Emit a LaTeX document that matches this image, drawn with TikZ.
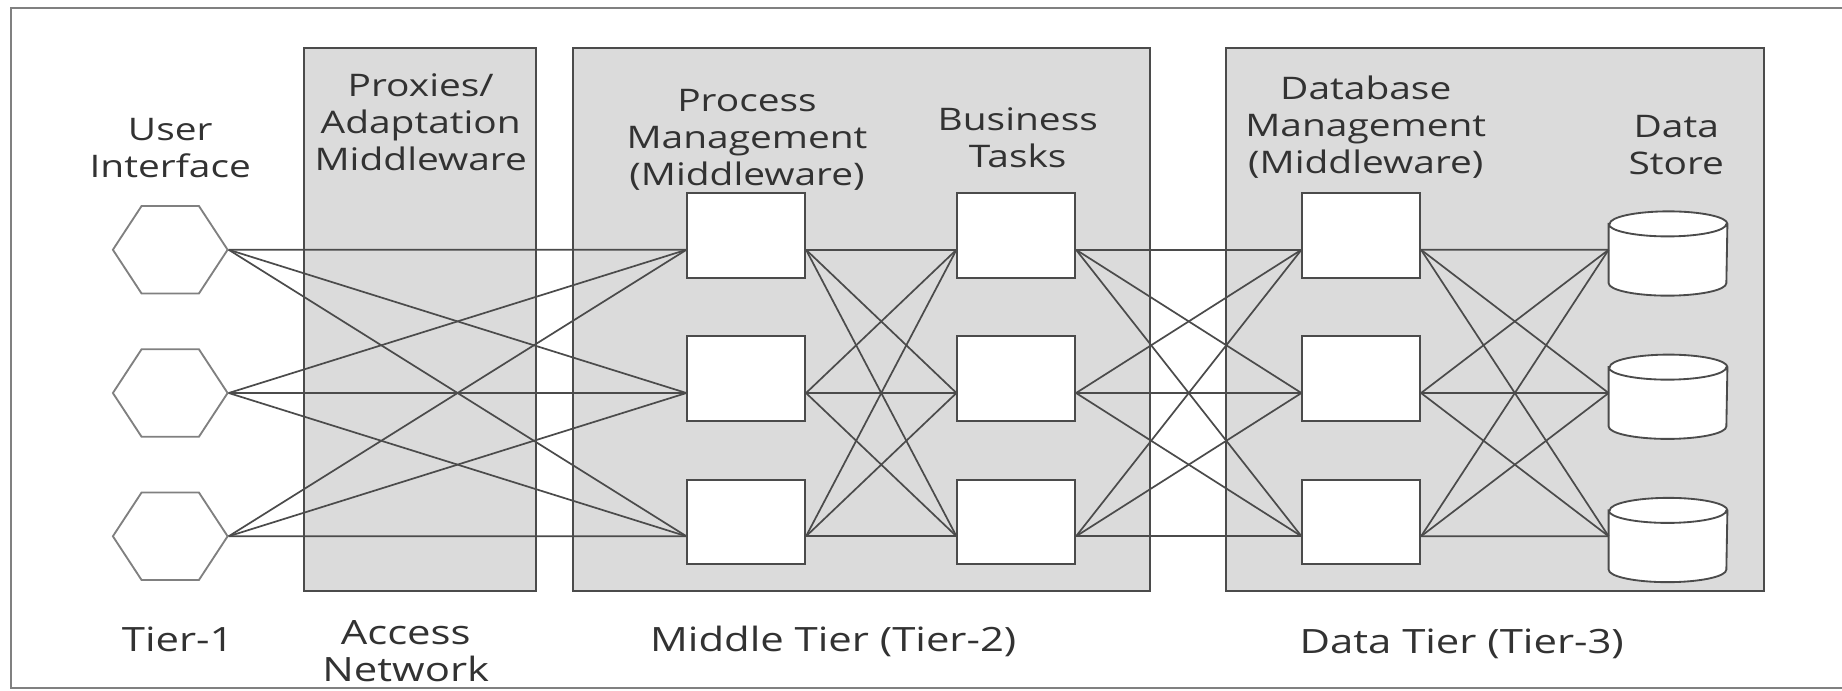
\documentclass[tikz,border=0pt]{standalone}
\usepackage{fontspec}
\setmainfont{Open Sans}[FakeStretch=1.25]
\usetikzlibrary{shapes.geometric}
\definecolor{panelgray}{RGB}{219,219,219}
\definecolor{edgegray}{RGB}{75,75,75}
\definecolor{inkgray}{RGB}{50,50,50}

\begin{document}
\begin{tikzpicture}[
  panel/.style={draw=edgegray, fill=panelgray, line width=0.7pt},
  hexa/.style={draw=gray, fill=white, regular polygon, regular polygon sides=6,
    minimum size=1.53cm, inner sep=0pt, yscale=0.88, line width=0.7pt},
  task/.style={draw=edgegray, fill=white, minimum width=1.57cm,
    minimum height=1.13cm, inner sep=0pt, line width=0.7pt},
  store/.style={minimum width=1.57cm, minimum height=1.11cm, inner sep=0pt},
  drum/.style={draw=edgegray, fill=white, line width=0.7pt},
  lbl/.style={align=center, anchor=base, text=inkgray,
    font=\fontsize{11.8}{14}\selectfont},
  tier/.style={align=center, anchor=base, text=inkgray,
    font=\fontsize{12.7}{14}\selectfont},
  link/.style={draw=edgegray, line width=0.65pt}
]
\useasboundingbox (0,0) rectangle (24.56,-9.213);
\clip (0,0) rectangle (24.56,-9.213);
% frame, open on the right
\draw[gray, line width=0.8pt] (25,-0.11) -- (0.15,-0.11) -- (0.15,-9.17) -- (25,-9.17);

% tier panels
\draw[panel] (4.05,-0.64) rectangle (7.15,-7.88);
\draw[panel] (7.64,-0.64) rectangle (15.33,-7.88);
\draw[panel] (16.35,-0.64) rectangle (23.52,-7.88);

% column headings (placed on their last line)
\node[lbl] (ui-lbl) at (2.27,-2.37) {User\\Interface};
\node[lbl] (px-lbl) at (5.61,-2.27) {Proxies/\\Adaptation\\Middleware};
\node[lbl] (pm-lbl) at (9.96,-2.47) {Process\\Management\\(Middleware)};
\node[lbl] (bt-lbl) at (13.57,-2.23) {Business\\Tasks};
\node[lbl] (db-lbl) at (18.21,-2.31) {Database\\Management\\(Middleware)};
\node[lbl] (ds-lbl) at (22.35,-2.33) {Data\\Store};

% tier names
\node[tier] (t1) at (2.37,-8.68) {Tier-1};
\node[tier] (an) at (5.41,-9.09) {Access\\Network};
\node[tier] (t2) at (11.11,-8.69) {Middle Tier (Tier-2)};
\node[tier] (t3) at (19.49,-8.71) {Data Tier (Tier-3)};

% user interfaces
\node[hexa] (ui1) at (2.27,-3.33) {};
\node[hexa] (ui2) at (2.27,-5.24) {};
\node[hexa] (ui3) at (2.27,-7.15) {};

% process management
\node[task] (pm1) at (9.95,-3.14) {};
\node[task] (pm2) at (9.95,-5.05) {};
\node[task] (pm3) at (9.95,-6.96) {};

% business tasks
\node[task] (bt1) at (13.55,-3.14) {};
\node[task] (bt2) at (13.55,-5.05) {};
\node[task] (bt3) at (13.55,-6.96) {};

% database management
\node[task] (db1) at (18.15,-3.14) {};
\node[task] (db2) at (18.15,-5.05) {};
\node[task] (db3) at (18.15,-6.96) {};

% data stores
\node[store] (ds1) at (22.24,-3.38) {};
\node[store] (ds2) at (22.24,-5.29) {};
\node[store] (ds3) at (22.24,-7.20) {};
\foreach \k in {1,2,3}
  \draw[drum] ([yshift=-0.167cm]ds\k.north west) -- ([yshift=0.167cm]ds\k.south west)
    arc[start angle=180, end angle=360, x radius=0.785cm, y radius=0.167cm]
    -- ([yshift=-0.167cm]ds\k.north east)
    arc[start angle=0, end angle=180, x radius=0.785cm, y radius=0.167cm] -- cycle
    ([yshift=-0.167cm]ds\k.north west)
    arc[start angle=180, end angle=360, x radius=0.785cm, y radius=0.167cm];

% every column talks to every node of the next one
\foreach \i in {1,2,3}
  \foreach \j in {1,2,3} {
    \draw[link] (ui\i.east) -- ([yshift=-0.19cm]pm\j.west);
    \draw[link] ([yshift=-0.19cm]pm\i.east) -- ([yshift=-0.19cm]bt\j.west);
    \draw[link] ([yshift=-0.19cm]bt\i.east) -- ([yshift=-0.19cm]db\j.west);
    \draw[link] ([yshift=-0.19cm]db\i.east) -- ([yshift=0.05cm]ds\j.west);
  }
\end{tikzpicture}
\end{document}
